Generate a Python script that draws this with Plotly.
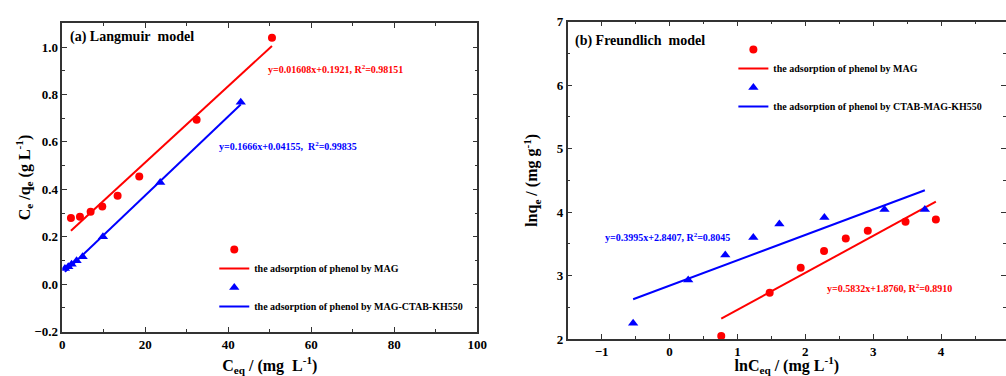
import plotly.graph_objects as go

# ---------------- data: (a) Langmuir ----------------
lang_mag_x = [2.09, 4.26, 6.83, 9.64, 13.33, 18.55, 32.37, 50.52]
lang_mag_y = [0.279, 0.285, 0.306, 0.328, 0.373, 0.454, 0.693, 1.039]
lang_kh_x = [0.64, 1.45, 2.25, 3.45, 4.90, 9.80, 23.6, 43.0]
lang_kh_y = [0.066, 0.074, 0.084, 0.099, 0.116, 0.200, 0.429, 0.767]
lang_mag_fit = (0.01608, 0.1921)
lang_kh_fit = (0.01666, 0.04155)

# ---------------- data: (b) Freundlich ----------------
fr_mag_x = [0.762, 1.475, 1.932, 2.276, 2.596, 2.920, 3.476, 3.923]
fr_mag_y = [2.047, 2.730, 3.123, 3.386, 3.585, 3.706, 3.848, 3.885]
fr_kh_x = [-0.536, 0.275, 0.821, 1.234, 1.618, 2.281, 3.166, 3.761]
fr_kh_y = [2.247, 2.929, 3.323, 3.601, 3.811, 3.916, 4.042, 4.042]
fr_mag_fit = (0.5832, 1.8760)
fr_kh_fit = (0.3995, 2.8407)

RED = "#ff0000"
BLUE = "#0000ff"
FONT = "Liberation Serif"


def fit_line(xs, coef):
    x0, x1 = min(xs), max(xs)
    return [x0, x1], [coef[0] * x0 + coef[1], coef[0] * x1 + coef[1]]


fig = go.Figure()

# ---- subplot (a) ----
fig.add_trace(go.Scatter(x=lang_mag_x, y=lang_mag_y, mode="markers", name=" ",
                         marker=dict(symbol="circle", size=8, color=RED),
                         xaxis="x", yaxis="y", legend="legend"))
lx, ly = fit_line(lang_mag_x, lang_mag_fit)
fig.add_trace(go.Scatter(x=lx, y=ly, mode="lines", name="the adsorption of phenol by MAG",
                         line=dict(color=RED, width=2), xaxis="x", yaxis="y", legend="legend"))
fig.add_trace(go.Scatter(x=lang_kh_x, y=lang_kh_y, mode="markers", name=" ",
                         marker=dict(symbol="triangle-up", size=9, color=BLUE),
                         xaxis="x", yaxis="y", legend="legend"))
lx, ly = fit_line(lang_kh_x, lang_kh_fit)
fig.add_trace(go.Scatter(x=lx, y=ly, mode="lines", name="the adsorption of phenol by MAG-CTAB-KH550",
                         line=dict(color=BLUE, width=2), xaxis="x", yaxis="y", legend="legend"))

# ---- subplot (b) ----
fig.add_trace(go.Scatter(x=fr_mag_x, y=fr_mag_y, mode="markers", name=" ",
                         marker=dict(symbol="circle", size=8, color=RED),
                         xaxis="x2", yaxis="y2", legend="legend2"))
lx, ly = fit_line(fr_mag_x, fr_mag_fit)
fig.add_trace(go.Scatter(x=lx, y=ly, mode="lines", name="the adsorption of phenol by MAG",
                         line=dict(color=RED, width=2), xaxis="x2", yaxis="y2", legend="legend2"))
fig.add_trace(go.Scatter(x=fr_kh_x, y=fr_kh_y, mode="markers", name=" ",
                         marker=dict(symbol="triangle-up", size=9, color=BLUE),
                         xaxis="x2", yaxis="y2", legend="legend2"))
lx, ly = fit_line(fr_kh_x, fr_kh_fit)
fig.add_trace(go.Scatter(x=lx, y=ly, mode="lines", name="the adsorption of phenol by CTAB-MAG-KH550",
                         line=dict(color=BLUE, width=2), xaxis="x2", yaxis="y2", legend="legend2"))

tickfont = dict(family=FONT, size=13, color="black", weight="bold")
titlefont = dict(family=FONT, size=16, color="black", weight="bold")


def axis(**kw):
    base = dict(showline=True, linecolor="#333", linewidth=1.5, mirror="allticks",
                ticks="inside", ticklen=5, tickwidth=1, tickcolor="#333",
                showgrid=False, zeroline=False, tickfont=tickfont, automargin=False)
    base.update(kw)
    return base


def minor(step):
    return dict(ticks="inside", ticklen=3, tickcolor="#333", dtick=step)


fig.update_layout(
    width=1006, height=376,
    margin=dict(l=0, r=0, t=0, b=0, autoexpand=False),
    paper_bgcolor="white", plot_bgcolor="white",
    xaxis=axis(domain=[0.0619, 0.4745], range=[0, 100], dtick=20, minor=minor(10),
               title=dict(text="C<sub>eq</sub> / (mg\u00a0 L<sup>-1</sup>)", font=titlefont),
               anchor="y"),
    yaxis=axis(domain=[0.1178, 0.938], range=[-0.2, 1.1], dtick=0.2, tickformat=".1f",
               minor=minor(0.1),
               title=dict(text="C<sub>e</sub> /q<sub>e</sub> (g L<sup>-1</sup>)", font=titlefont,
                          standoff=0),
               anchor="x"),
    xaxis2=axis(domain=[0.5643, 1.0], range=[-1.5, 4.956], dtick=1, minor=minor(0.5),
                title=dict(text="lnC<sub>eq</sub> / (mg L<sup>-1</sup>)", font=titlefont,
                           standoff=8),
                anchor="y2"),
    yaxis2=axis(domain=[0.0984, 0.9423], range=[2, 7], dtick=1, minor=minor(0.5),
                title=dict(text="lnq<sub>e</sub> / (mg g<sup>-1</sup>)", font=titlefont),
                anchor="x2"),
    legend=dict(x=0.213, y=0.375, xanchor="left", yanchor="top", bgcolor="rgba(0,0,0,0)",
                font=dict(family=FONT, size=10, color="black", weight="bold"),
                traceorder="normal", itemwidth=30),
    legend2=dict(x=0.729, y=0.907, xanchor="left", yanchor="top", bgcolor="rgba(0,0,0,0)",
                 font=dict(family=FONT, size=10, color="black", weight="bold"),
                 traceorder="normal", itemwidth=30),
    showlegend=True,
)

annfont_big = dict(family=FONT, size=14, color="black", weight="bold")
ann = [
    dict(text="(a) Langmuir\u00a0 model", x=1.3, y=1.042, xref="x", yref="y",
         xanchor="left", yanchor="middle", showarrow=False, font=annfont_big),
    dict(text="y=0.01608x+0.1921, R<sup>2</sup>=0.98151", x=49.2, y=0.909, xref="x", yref="y",
         xanchor="left", yanchor="middle", showarrow=False,
         font=dict(family=FONT, size=10, color=RED, weight="bold")),
    dict(text="y=0.1666x+0.04155,\u00a0 R<sup>2</sup>=0.99835", x=37.2, y=0.582, xref="x", yref="y",
         xanchor="left", yanchor="middle", showarrow=False,
         font=dict(family=FONT, size=10, color=BLUE, weight="bold")),
    dict(text="(b) Freundlich\u00a0 model", x=-1.426, y=6.693, xref="x2", yref="y2",
         xanchor="left", yanchor="middle", showarrow=False, font=annfont_big),
    dict(text="y=0.3995x+2.8407, R<sup>2</sup>=0.8045", x=-0.984, y=3.602, xref="x2", yref="y2",
         xanchor="left", yanchor="middle", showarrow=False,
         font=dict(family=FONT, size=10, color=BLUE, weight="bold")),
    dict(text="y=0.5832x+1.8760, R<sup>2</sup>=0.8910", x=2.296, y=2.808, xref="x2", yref="y2",
         xanchor="left", yanchor="middle", showarrow=False,
         font=dict(family=FONT, size=10, color=RED, weight="bold")),
]
fig.update_layout(annotations=ann)

fig.write_html("out.html")
